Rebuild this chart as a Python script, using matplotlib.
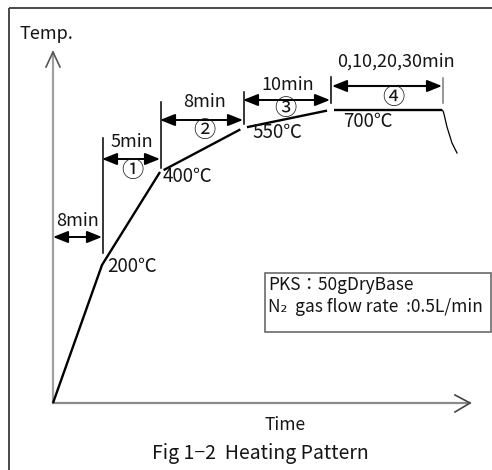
import matplotlib
matplotlib.use("Agg")
import matplotlib.pyplot as plt
from matplotlib.patches import Rectangle
import numpy as np

plt.rcParams['font.family'] = ['Noto Sans CJK JP', 'DejaVu Sans']

# ---- data (schematic positions) ----
# heating profile break points: schematic time position / schematic temperature level
stage_time = [0, 49, 107, 190, 277, 389]
stage_level = [0, 138, 231, 275, 293, 293]
temp_labels = ["200℃", "400℃", "550℃", "700℃"]
durations = ["8min", "5min", "8min", "10min", "0,10,20,30min"]
stage_marks = ["", "①", "②", "③", "④"]
# cooling tail after the hold
cool_time = [389, 390, 391, 394, 399, 404]
cool_level = [293, 292, 289, 276, 260, 250]
box_lines = ["PKS：50gDryBase", "N₂  gas flow rate  :0.5L/min"]
xlabel = "Time"
ylabel = "Temp."
caption = "Fig 1−2  Heating Pattern"

# ---- layout ----
W, H = 492, 470
fig = plt.figure(figsize=(W / 100, H / 100), dpi=100)
fx = fig.add_axes([0, 0, 1, 1])
fx.set_xlim(0, W)
fx.set_ylim(H, 0)
fx.axis('off')

ox, oy = 53, 403          # axes origin in pixels
ax_w, ax_h = 417, 351
ax = fig.add_axes([ox / W, (H - oy) / H, ax_w / W, ax_h / H])
ax.set_xlim(0, ax_w)
ax.set_ylim(0, ax_h)
ax.axis('off')

fs = 12.5
txt = dict(color='#151515', fontsize=fs)

# outer frame (top + left)
fx.plot([9, W], [8, 8], color='#3a3a3a', lw=1.3, solid_capstyle='butt')
fx.plot([9, 9], [8, H], color='#3a3a3a', lw=1.3, solid_capstyle='butt')

# axes lines with open arrowheads
ax.plot([0, 0], [0, ax_h], color='#a0a0a0', lw=1.6, clip_on=False)
ax.plot([-7, 0, 7], [ax_h - 15, ax_h, ax_h - 15], color='#555555', lw=1.2, clip_on=False)
ax.plot([0, ax_w], [0, 0], color='#8a8a8a', lw=1.6, clip_on=False)
ax.plot([ax_w - 15, ax_w, ax_w - 15], [8, 0, -9], color='#444444', lw=1.2, clip_on=False)

fx.text(46, 34, ylabel, ha='center', va='center', color='#151515', fontsize=13)
fx.text(285, 425, xlabel, ha='center', va='center', **txt)
fx.text(260, 453, caption, ha='center', va='center', color='#151515', fontsize=14)

# heating profile: first two ramps continuous, then small gaps at joints
gap = 3.0
def seg(p, q, g0, g1):
    p = np.array(p, float); q = np.array(q, float)
    d = (q - p) / np.linalg.norm(q - p)
    return p + d * g0, q - d * g1

pts = list(zip(stage_time, stage_level))
ax.plot(stage_time[:3], stage_level[:3], color='black', lw=1.7, clip_on=False,
        solid_capstyle='butt')
for i in range(2, 5):
    a, b = seg(pts[i], pts[i + 1], gap + 1, gap if i < 4 else 0)
    ax.plot([a[0], b[0]], [a[1], b[1]], color='black', lw=1.7, clip_on=False,
            solid_capstyle='butt')
ax.plot(cool_time, cool_level, color='black', lw=0.9, clip_on=False)

# temperature labels
lab_off = [(5, -1), (3, -5), (9, -5), (13, -12)]
for i, t in enumerate(temp_labels):
    x, y = stage_time[i + 1], stage_level[i + 1]
    ax.text(x + lab_off[i][0], y + lab_off[i][1], t, ha='left', va='center',
            color='#151515', fontsize=13.5)

# dimension arrows
arrow_y = [166, 244, 283, 303, 317]
ext_top = [265, 301, 311, 326, 325]
ext_bot = [150, 235, 279, 300, 300]
text_dy = [16, 17, 18, 15, 24]
text_dx = [0, 1, 3, 1, 9]
mark_dy = [0, 11, 10, 8, 11]
mark_dx = [0, 1, 3, -1, 6]
arr_style = '<|-|>,head_length=0.9,head_width=0.36'
for i in range(5):
    x0 = stage_time[i]
    x1 = stage_time[i + 1]
    y = arrow_y[i]
    if i == 4:
        x0 += 2
    # extension line at right end
    ax.plot([x1 + 1, x1 + 1], [ext_bot[i], ext_top[i]],
            color='#7a7a7a' if i == 4 else 'black', lw=1.1, clip_on=False)
    ax.annotate('', xy=(x1, y), xytext=(x0, y),
                arrowprops=dict(arrowstyle=arr_style, color='black', lw=1.4,
                                mutation_scale=10, shrinkA=0, shrinkB=0),
                annotation_clip=False)
    if i == 4:
        ax.plot([x0 + 13, x1 - 13], [y, y], color='#9a9a9a', lw=1.6, clip_on=False)
    xm = (x0 + x1) / 2
    ax.text(xm + text_dx[i], y + text_dy[i], durations[i], ha='center', va='center',
            color='#151515', fontsize=13)
    if stage_marks[i]:
        ax.text(xm + mark_dx[i], y - mark_dy[i] - 1, stage_marks[i], ha='center',
                va='center', color='#151515', fontsize=16)

# info box
fx.add_patch(Rectangle((265, 273), 226, 59, fill=False, edgecolor='#6a6a6a', lw=1.2))
fx.text(268, 285, box_lines[0], ha='left', va='center', **txt)
fx.text(268, 307, box_lines[1], ha='left', va='center', **txt)

fig.savefig('out.png', dpi=100)
